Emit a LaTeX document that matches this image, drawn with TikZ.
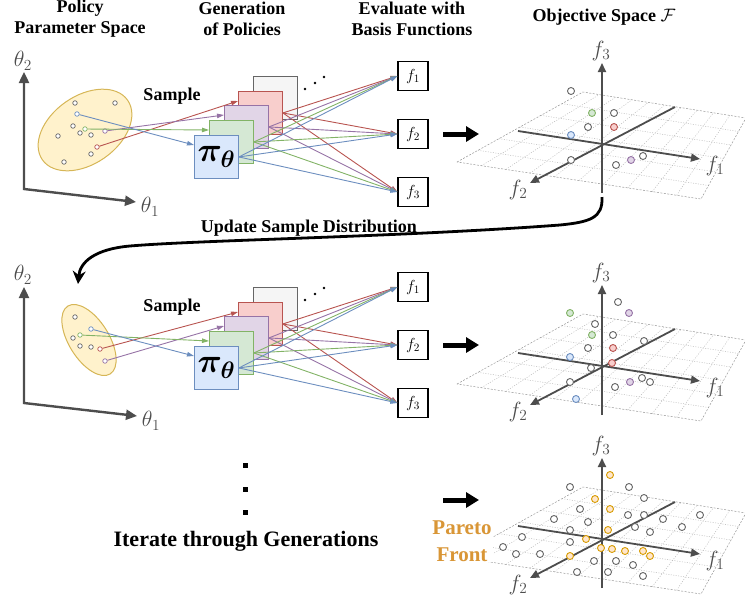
\documentclass[tikz,border=0pt]{standalone}
\usepackage{fix-cm}
\usepackage{fontspec}
\setmainfont{Liberation Serif}
\usepackage{tikz}
\usetikzlibrary{shapes,arrows.meta,calc}

\definecolor{axisGray}{RGB}{77,77,77}
\definecolor{dotGray}{RGB}{102,102,102}
\definecolor{lineGray}{RGB}{102,102,102}
\definecolor{fillGray}{RGB}{245,245,245}
\definecolor{lineRed}{RGB}{184,84,80}
\definecolor{fillRed}{RGB}{248,206,204}
\definecolor{linePurple}{RGB}{150,115,166}
\definecolor{fillPurple}{RGB}{225,213,231}
\definecolor{lineGreen}{RGB}{130,179,102}
\definecolor{fillGreen}{RGB}{213,232,212}
\definecolor{lineBlue}{RGB}{108,142,191}
\definecolor{fillBlue}{RGB}{218,232,252}
\definecolor{lineYellow}{RGB}{214,182,86}
\definecolor{fillYellow}{RGB}{255,242,204}
\definecolor{lineOrange}{RGB}{215,155,0}
\definecolor{fillOrange}{RGB}{255,230,204}
\definecolor{textOrange}{RGB}{217,150,54}
\definecolor{gridGray}{RGB}{150,150,150}
\definecolor{gridLight}{RGB}{185,185,185}

\tikzset{
  head/.style={font=\fontsize{18}{21}\selectfont\bfseries, align=center, inner sep=0pt},
  thaxis/.style={line width=2.4pt, color=axisGray, >={Triangle[length=11pt,width=10pt]}},
  faxis/.style={line width=1.8pt, color=axisGray, >={Triangle[length=9pt,width=8pt]}},
  axlabel/.style={color=axisGray, inner sep=0pt, font=\fontsize{22}{22}\selectfont},
  polbox/.style={draw, line width=0.9pt, minimum width=44pt, minimum height=43pt, anchor=north west, inner sep=0pt},
  fbox/.style={draw=black, fill=white, line width=1.1pt, minimum width=30pt, minimum height=29pt, inner sep=0pt, font=\fontsize{16}{16}\selectfont},
  carrow/.style={line width=0.9pt, ->, >={Triangle[length=7pt,width=4.5pt]}},
  bigarrow/.style={line width=5pt, ->, >={Triangle[length=13pt,width=15pt]}},
  sdot/.style={circle, draw=dotGray, fill=white, line width=0.7pt, minimum size=4.5pt, inner sep=0pt},
  odot/.style={circle, draw=dotGray, fill=white, line width=0.9pt, minimum size=7pt, inner sep=0pt},
  gridedge/.style={draw=gridGray, line width=0.5pt, dash pattern=on 2pt off 1.5pt},
  gridline/.style={draw=gridLight, line width=0.5pt, dash pattern=on 1pt off 1.5pt}
}

\begin{document}
\begin{tikzpicture}[x=1pt,y=-1pt]
\useasboundingbox (0,0) rectangle (745,598);

\node[head] (hParam) at (80,18.5) {Policy\\Parameter Space};
\node[head] (hGen) at (242,18.5) {Generation\\of Policies};
\node[head] (hEval) at (412,18.5) {Evaluate with\\Basis Functions};
\node[head] (hObj) at (604,17) {Objective Space $\mathcal{F}$};

% parameter space, first and second generation
\draw[thaxis,<->] (24,72) -- (24,189) -- (136,202);
\node[axlabel] (thTwoA) at (23,61) {$\theta_2$};
\node[axlabel] (thOneA) at (150,207) {$\theta_1$};
\node[ellipse, draw=lineYellow, fill=fillYellow, line width=1pt, minimum width=104pt, minimum height=68pt, inner sep=0pt, rotate=35] (ellA) at (85,130) {};

\draw[thaxis,<->] (24,287) -- (24,403) -- (137,416);
\node[axlabel] (thTwoB) at (23,275) {$\theta_2$};
\node[axlabel] (thOneB) at (151,421) {$\theta_1$};
\node[ellipse, draw=lineYellow, fill=fillYellow, line width=1pt, minimum width=80pt, minimum height=40pt, inner sep=0pt, rotate=-58] (ellB) at (89,340) {};

\foreach \x/\y [count=\i] in {75/103,115/103,73/126,80/133,91/135,58/136,91/154,64/162}
  \node[sdot] (eA\i) at (\x,\y) {};
\node[sdot, draw=lineBlue] (eBlueA) at (77,114) {};
\node[sdot, draw=lineGreen] (eGreenA) at (85,129) {};
\node[sdot, draw=linePurple] (ePurpleA) at (105,131) {};
\node[sdot, draw=lineRed] (eRedA) at (97,147) {};

\foreach \x/\y [count=\i] in {75/317,73/338,80/346,91/347}
  \node[sdot] (eB\i) at (\x,\y) {};
\node[sdot, draw=lineBlue] (eBlueB) at (91,329) {};
\node[sdot, draw=lineGreen] (eGreenB) at (80,335) {};
\node[sdot, draw=lineRed] (eRedB) at (100,349) {};
\node[sdot, draw=linePurple] (ePurpleB) at (105,361) {};

% policies and basis functions
\foreach \s/\dy in {A/0,B/211}{
  \node[head] (sample\s) at (172,96+\dy) {Sample};
  \node[polbox, draw=lineGray, fill=fillGray] (polGray\s) at (253,76+\dy) {};
  \node[polbox, draw=lineRed, fill=fillRed] (polRed\s) at (238,91+\dy) {};
  \node[polbox, draw=linePurple, fill=fillPurple] (polPurple\s) at (224,105+\dy) {};
  \node[polbox, draw=lineGreen, fill=fillGreen] (polGreen\s) at (209,120+\dy) {};
  \node[polbox, draw=lineBlue, fill=fillBlue, font=\fontsize{34}{34}\selectfont\boldmath] (polBlue\s) at (194,135+\dy) {$\pi_\theta$};
  \foreach \x/\y [count=\i] in {305/89,315/83,324/77}
    \node[circle, fill=black, inner sep=0pt, minimum size=2.6pt] (more\s\i) at (\x,\y+\dy) {};
  \node[fbox] (fOne\s) at (413,76+\dy) {$f_1$};
  \node[fbox] (fTwo\s) at (413,134+\dy) {$f_2$};
  \node[fbox] (fThree\s) at (413,192+\dy) {$f_3$};
  \foreach \c in {Red,Purple,Green,Blue}{
    \draw[carrow, color=line\c] (e\c\s) -- ($(pol\c\s.north west)+(0,10)$);
    \foreach \f in {One,Two,Three}
      \draw[carrow, color=line\c] (pol\c\s.east) -- (f\f\s.west);
  }
}

% objective spaces
\foreach \p/\dy in {A/0,B/222,C/395}{
  \coordinate (pl\p) at (457,162+\dy);
  \coordinate (pt\p) at (583,92+\dy);
  \coordinate (pr\p) at (746,118+\dy);
  \coordinate (pb\p) at (701,199+\dy);
  \foreach \k in {1,...,9}
    \draw[gridline] ($(pl\p)!\k/10!(pb\p)$) -- ($(pt\p)!\k/10!(pr\p)$);
  \foreach \k in {1,...,5}
    \draw[gridline] ($(pl\p)!\k/6!(pt\p)$) -- ($(pb\p)!\k/6!(pr\p)$);
  \draw[gridedge] (pl\p) -- (pt\p) -- (pr\p) -- (pb\p) -- cycle;
  \draw[faxis,->] (518,131+\dy) -- (700,159+\dy);
  \draw[faxis,->] (675,107+\dy) -- (530,183+\dy);
  \draw[faxis,->] (602,193+\dy) -- (602,63+\dy);
  \node[axlabel] (fl1\p) at (715,166+\dy) {$f_1$};
  \node[axlabel] (fl2\p) at (518,190+\dy) {$f_2$};
  \node[axlabel] (fl3\p) at (601,51+\dy) {$f_3$};
}
\draw[bigarrow] (443,134) -- (479,134);
\draw[bigarrow] (443,345) -- (479,345);
\draw[bigarrow] (443,500) -- (479,500);

\foreach \x/\y [count=\i] in {571/91,614/113,588/127,571/160,643/156,616/165}
  \node[odot] (oA\i) at (\x,\y) {};
\node[odot, draw=lineGreen, fill=fillGreen] (oGreenA) at (592,113) {};
\node[odot, draw=lineRed, fill=fillRed] (oRedA) at (614,127) {};
\node[odot, draw=lineBlue, fill=fillBlue] (oBlueA) at (571,135) {};
\node[odot, draw=linePurple, fill=fillPurple] (oPurpleA) at (631,160) {};

\foreach \x/\y [count=\i] in {618/302,595/324,613/335,644/341,588/348,591/368,570/382,642/378,650/382,615/387}
  \node[odot] (oB\i) at (\x,\y) {};
\node[odot, draw=lineGreen, fill=fillGreen] (oGreenB) at (570,313) {};
\node[odot, draw=lineGreen, fill=fillGreen] (oGreenBB) at (592,335) {};
\node[odot, draw=linePurple, fill=fillPurple] (oPurpleB) at (629,313) {};
\node[odot, draw=linePurple, fill=fillPurple] (oPurpleBB) at (630,382) {};
\node[odot, draw=lineRed, fill=fillRed] (oRedB) at (613,348) {};
\node[odot, draw=lineRed, fill=fillRed] (oRedBB) at (612,363) {};
\node[odot, draw=lineBlue, fill=fillBlue] (oBlueB) at (570,357) {};
\node[odot, draw=lineBlue, fill=fillBlue] (oBlueBB) at (576,399) {};

\foreach \x/\y [count=\i] in {570/487,629/487,644/498,580/509,628/515,644/515,663/519,700/515,554/519,588/522,635/527,650/532,682/527,570/530,522/537,570/542,503/547,516/554,540/554,594/561,616/561,633/565,577/572,608/572,643/576}
  \node[odot] (oC\i) at (\x,\y) {};
\foreach \x/\y [count=\i] in {610/475,595/499,610/509,608/530,586/539,601/548,612/549,625/551,643/551,650/556,570/556}
  \node[odot, draw=lineOrange, fill=fillOrange] (pf\i) at (\x,\y) {};

% update of the sample distribution
\coordinate (updStart) at (602,197);
\coordinate (updEnd) at (78,284);
\draw[line width=2.8pt, ->, >={Stealth[length=13pt,width=13pt]}] (updStart) .. controls (603,218) and (590,222) .. (560,225) .. controls (400,237) and (200,240) .. (130,246) .. controls (95,249) and (80,262) .. (updEnd);
\node[head] (update) at (309,228) {Update Sample Distribution};

\foreach \y [count=\i] in {465,489,512}
  \node[fill=black, inner sep=0pt, minimum size=5pt] (vdot\i) at (245,\y) {};
\node[font=\fontsize{22}{22}\selectfont\bfseries, inner sep=0pt] (iterate) at (246,541) {Iterate through Generations};
\node[font=\fontsize{21}{27}\selectfont\bfseries, text=textOrange, align=center, fill=white, inner sep=1pt] (pareto) at (462,541) {Pareto\\Front};
\end{tikzpicture}
\end{document}
